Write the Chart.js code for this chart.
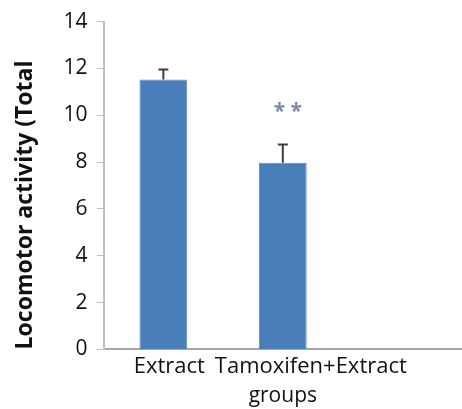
<!DOCTYPE html>
<html>
<head>
<meta charset="utf-8">
<script src="https://cdn.jsdelivr.net/npm/chart.js@4/dist/chart.umd.min.js"></script>
<style>
  html, body { margin: 0; padding: 0; background: #fff; }
  #wrap { width: 462px; height: 409px; }
</style>
</head>
<body>
<div id="wrap"><canvas id="barChart" width="462" height="409"></canvas></div>
<script>
// data
var groups   = ['Extract', 'Tamoxifen+Extract', ''];
var means    = [11.53, 7.97, null];
var errUpper = [11.95, 8.75, null];
var marks    = ['', '* *', ''];
var yTicks   = [0, 2, 4, 6, 8, 10, 12, 14];

// upper error whiskers + significance stars
var errorBars = {
  id: 'errorBars',
  beforeDraw: function(chart) {
    // the category labels sit a bit right of the bars, like in the original
    var xs = chart.scales.x;
    var items = xs.getLabelItems(chart.chartArea);
    if (items._shifted) return;
    var shift = [6, 28, 0];
    items.forEach(function(it, i) { it.options.translation[0] += shift[i] || 0; });
    items._shifted = true;
  },
  afterDatasetsDraw: function(chart) {
    var ctx = chart.ctx;
    var y = chart.scales.y;
    var meta = chart.getDatasetMeta(0);
    ctx.save();
    meta.data.forEach(function(bar, i) {
      if (errUpper[i] == null) return;
      var top = y.getPixelForValue(errUpper[i]);
      var base = y.getPixelForValue(means[i]);
      ctx.strokeStyle = '#3d3d3d';
      ctx.lineWidth = 2;
      ctx.beginPath();
      ctx.moveTo(bar.x, base);
      ctx.lineTo(bar.x, top);
      ctx.moveTo(bar.x - 5, top);
      ctx.lineTo(bar.x + 5, top);
      ctx.stroke();
      if (marks[i]) {
        ctx.fillStyle = '#7d8aa3';
        ctx.font = 'bold 21px "Open Sans"';
        ctx.textAlign = 'center';
        ctx.textBaseline = 'middle';
        ctx.fillText(marks[i], bar.x + 5, top - 33);
      }
    });
    ctx.restore();
  }
};

var ctxB = document.getElementById('barChart').getContext('2d');
var myBarChart = new Chart(ctxB, {
  type: 'bar',
  data: {
    labels: groups,
    datasets: [{
      data: means,
      backgroundColor: '#4a7ebb',
      borderColor: '#5b8bc4',
      borderWidth: 1,
      barPercentage: 0.5,
      categoryPercentage: 0.8
    }]
  },
  options: {
    responsive: false,
    animation: false,
    events: [],
    layout: { padding: { top: 0, right: 0, left: 12, bottom: 0 } },
    plugins: {
      legend: { display: false },
      tooltip: { enabled: false }
    },
    scales: {
      x: {
        grid: { display: false, drawTicks: false },
        border: { display: true, color: '#a6a6a6', width: 2 },
        ticks: {
          color: '#111',
          font: { family: 'Open Sans', size: 22 },
          maxRotation: 0,
          autoSkip: false,
          padding: 4
        },
        title: {
          display: true,
          text: 'groups',
          color: '#111',
          font: { family: 'Open Sans', size: 21 },
          padding: { top: 0, bottom: 0 }
        }
      },
      y: {
        min: 0,
        max: 14,
        afterBuildTicks: function(scale) {
          scale.ticks = yTicks.map(function(v) { return { value: v }; });
        },
        grid: {
          drawOnChartArea: false,
          drawTicks: true,
          tickLength: 7,
          color: '#bfbfbf'
        },
        border: { display: true, color: '#bfbfbf', width: 2 },
        ticks: {
          color: '#111',
          font: { family: 'Open Sans', size: 21 },
          padding: 9
        },
        title: {
          display: true,
          text: 'Locomotor activity (Total',
          align: 'start',
          color: '#111',
          font: { family: 'Open Sans', size: 23, weight: 'bold' },
          padding: { top: 0, bottom: 15 }
        }
      }
    }
  },
  plugins: [errorBars]
});
</script>
</body>
</html>
